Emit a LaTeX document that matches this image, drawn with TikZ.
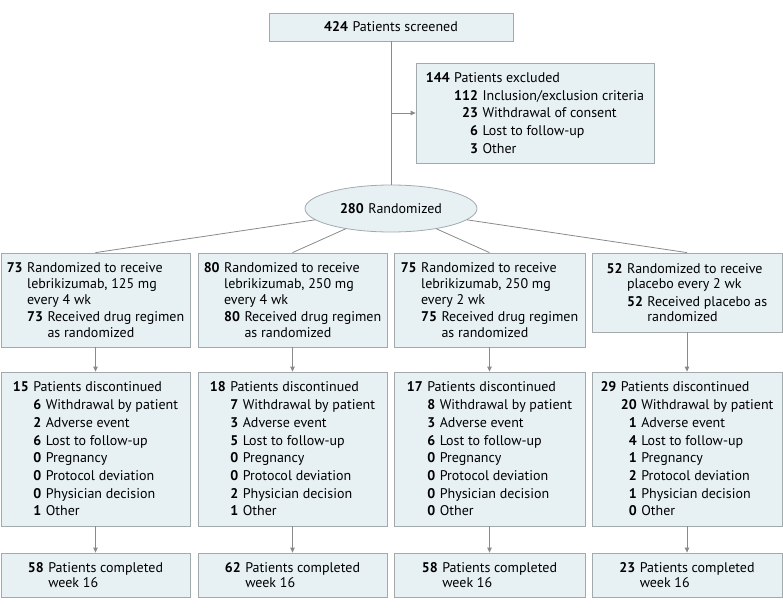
\documentclass[tikz,border=0pt]{standalone}
\usepackage{fontspec}
\setmainfont{PT Sans}
\usetikzlibrary{arrows.meta,shapes.geometric}
\definecolor{boxfill}{HTML}{E7F0F3}
\definecolor{boxline}{HTML}{A2AAAE}
\definecolor{lncol}{HTML}{8A8A8A}
\newlength\numgap \setlength\numgap{4.5pt}
\newcommand\nc[2]{\phantom{\textbf{#1}}\llap{\textbf{#2}}\hspace{\numgap}}
\newcommand\ind[1]{\phantom{\textbf{#1}}\hspace{\numgap}}
\begin{document}
\begin{tikzpicture}[x=1pt,y=-1pt,
  box/.style={draw=boxline, fill=boxfill, line width=0.8pt, inner sep=0pt, align=left,
    font=\fontsize{14}{15.7}\selectfont},
  ln/.style={draw=lncol, line width=0.8pt},
  arr/.style={ln, -{Triangle[length=5pt,width=4.5pt]}}]
\useasboundingbox (0,0) rectangle (783,610);
% top
\node[box, minimum width=244pt, minimum height=28pt] (top) at (391,27) {\nc{424}{424}Patients screened};
\node[box, minimum width=238pt, minimum height=100pt] (excl) at (535,113) {%
\nc{144}{144}Patients excluded\\[2pt]
\ind{144}\nc{112}{112}Inclusion/exclusion criteria\\[2pt]
\ind{144}\nc{112}{23}Withdrawal of consent\\[2pt]
\ind{144}\nc{112}{6}Lost to follow-up\\[2pt]
\ind{144}\nc{112}{3}Other};
\node[box, ellipse, minimum width=172pt, minimum height=47pt] (ell) at (391,208.5) {\nc{280}{280}Randomized};
% arms
\node[box, minimum width=189pt, minimum height=94pt] (a1) at (95.5,300) {%
\nc{73}{73}Randomized to receive\\
\ind{73}lebrikizumab, 125 mg\\
\ind{73}every 4 wk\\[1.5pt]
\ind{73}\nc{73}{73}Received drug regimen\\
\ind{73}\ind{73}as randomized};
\node[box, minimum width=189pt, minimum height=94pt] (a2) at (292.5,300) {%
\nc{80}{80}Randomized to receive\\
\ind{80}lebrikizumab, 250 mg\\
\ind{80}every 4 wk\\[1.5pt]
\ind{80}\nc{80}{80}Received drug regimen\\
\ind{80}\ind{80}as randomized};
\node[box, minimum width=191pt, minimum height=94pt] (a3) at (489.5,300) {%
\nc{75}{75}Randomized to receive\\
\ind{75}lebrikizumab, 250 mg\\
\ind{75}every 2 wk\\[1.5pt]
\ind{75}\nc{75}{75}Received drug regimen\\
\ind{75}\ind{75}as randomized};
\node[box, minimum width=190pt, minimum height=79pt] (a4) at (687,292.5) {%
\nc{52}{52}Randomized to receive\\
\ind{52}placebo every 2 wk\\[1.5pt]
\ind{52}\nc{52}{52}Received placebo as\\
\ind{52}\ind{52}randomized};
% discontinued
\node[box, minimum width=189pt, minimum height=154pt] (d1) at (95.5,449) {%
\nc{15}{15}Patients discontinued\\[2pt]
\ind{15}\nc{0}{6}Withdrawal by patient\\[2pt]
\ind{15}\nc{0}{2}Adverse event\\[2pt]
\ind{15}\nc{0}{6}Lost to follow-up\\[2pt]
\ind{15}\nc{0}{0}Pregnancy\\[2pt]
\ind{15}\nc{0}{0}Protocol deviation\\[2pt]
\ind{15}\nc{0}{0}Physician decision\\[2pt]
\ind{15}\nc{0}{1}Other};
\node[box, minimum width=189pt, minimum height=154pt] (d2) at (292.5,449) {%
\nc{18}{18}Patients discontinued\\[2pt]
\ind{18}\nc{0}{7}Withdrawal by patient\\[2pt]
\ind{18}\nc{0}{3}Adverse event\\[2pt]
\ind{18}\nc{0}{5}Lost to follow-up\\[2pt]
\ind{18}\nc{0}{0}Pregnancy\\[2pt]
\ind{18}\nc{0}{0}Protocol deviation\\[2pt]
\ind{18}\nc{0}{2}Physician decision\\[2pt]
\ind{18}\nc{0}{1}Other};
\node[box, minimum width=191pt, minimum height=154pt] (d3) at (489.5,449) {%
\nc{17}{17}Patients discontinued\\[2pt]
\ind{17}\nc{0}{8}Withdrawal by patient\\[2pt]
\ind{17}\nc{0}{3}Adverse event\\[2pt]
\ind{17}\nc{0}{6}Lost to follow-up\\[2pt]
\ind{17}\nc{0}{0}Pregnancy\\[2pt]
\ind{17}\nc{0}{0}Protocol deviation\\[2pt]
\ind{17}\nc{0}{0}Physician decision\\[2pt]
\ind{17}\nc{0}{0}Other};
\node[box, minimum width=190pt, minimum height=154pt] (d4) at (687,449) {%
\nc{29}{29}Patients discontinued\\[2pt]
\ind{29}\nc{20}{20}Withdrawal by patient\\[2pt]
\ind{29}\nc{20}{1}Adverse event\\[2pt]
\ind{29}\nc{20}{4}Lost to follow-up\\[2pt]
\ind{29}\nc{20}{1}Pregnancy\\[2pt]
\ind{29}\nc{20}{2}Protocol deviation\\[2pt]
\ind{29}\nc{20}{1}Physician decision\\[2pt]
\ind{29}\nc{20}{0}Other};
% completed
\node[box, minimum width=189pt, minimum height=44pt] (c1) at (95.5,575) {\nc{58}{58}Patients completed\\ \ind{58}week 16};
\node[box, minimum width=189pt, minimum height=44pt] (c2) at (292.5,575) {\nc{62}{62}Patients completed\\ \ind{62}week 16};
\node[box, minimum width=191pt, minimum height=44pt] (c3) at (489.5,575) {\nc{58}{58}Patients completed\\ \ind{58}week 16};
\node[box, minimum width=190pt, minimum height=44pt] (c4) at (687,575) {\nc{23}{23}Patients completed\\ \ind{23}week 16};
% connectors
\draw[ln] (top.south) -- (ell.north);
\draw[arr] (top.south |- excl.west) -- (excl.west);
\foreach \i in {1,2,3,4}{
  \draw[ln] (ell) -- (a\i.north);
  \draw[arr] (a\i.south) -- (d\i.north);
  \draw[arr] (d\i.south) -- (c\i.north);
}
\end{tikzpicture}
\end{document}
